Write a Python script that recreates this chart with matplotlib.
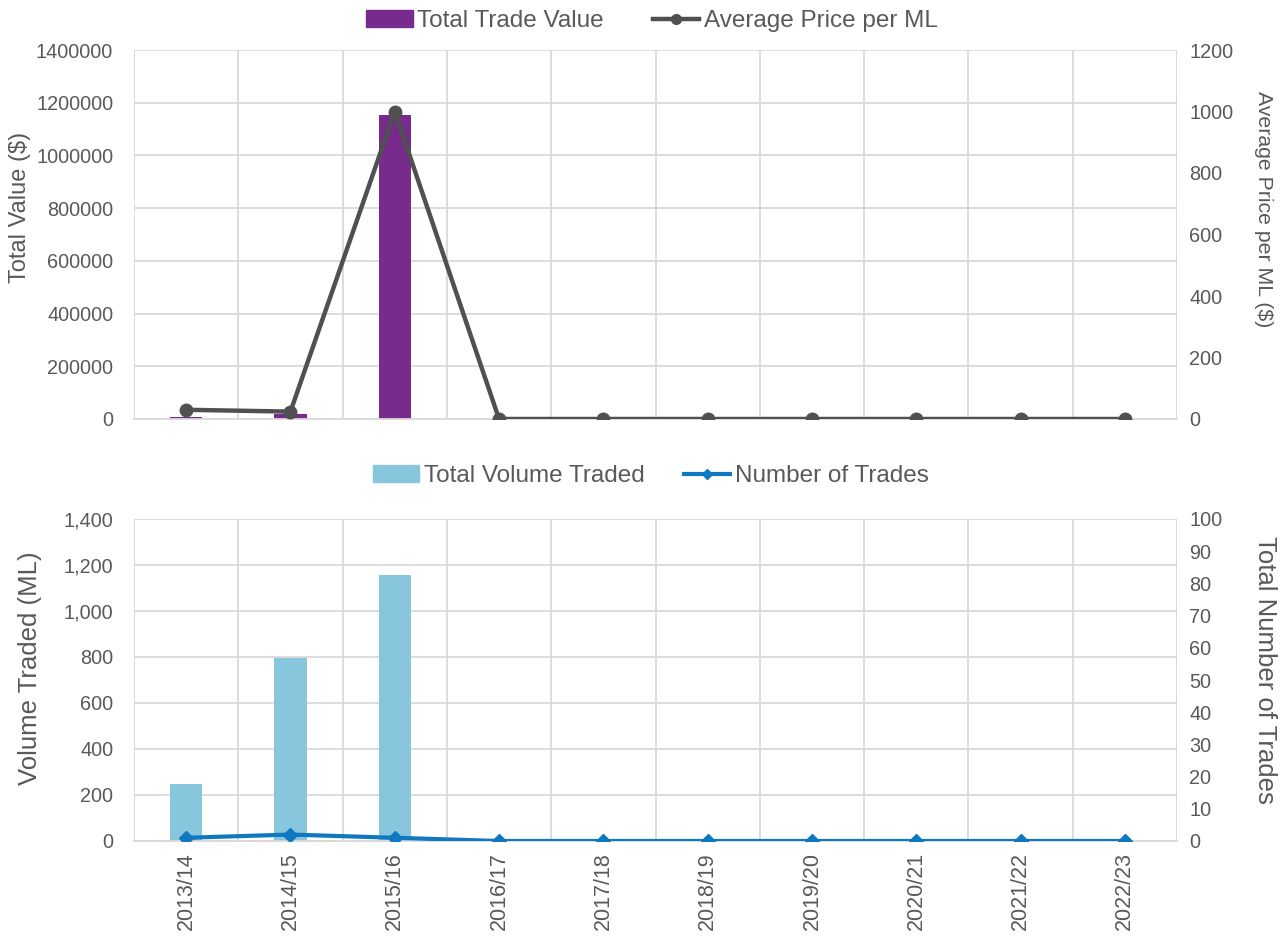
import matplotlib
matplotlib.use("Agg")
import matplotlib.pyplot as plt
from matplotlib.patches import Patch
from matplotlib.lines import Line2D
from matplotlib.ticker import FuncFormatter, MultipleLocator, FixedLocator
import numpy as np

plt.rcParams['font.family'] = ['Liberation Sans', 'DejaVu Sans']

years = ["2013/14", "2014/15", "2015/16", "2016/17", "2017/18",
         "2018/19", "2019/20", "2020/21", "2021/22", "2022/23"]
trade_value = [6000, 19000, 1155000, 0, 0, 0, 0, 0, 0, 0]
avg_price = [30, 24, 1000, 0, 0, 0, 0, 0, 0, 0]
volume = [250, 795, 1155, 0, 0, 0, 0, 0, 0, 0]
num_trades = [1, 2, 1, 0, 0, 0, 0, 0, 0, 0]

TXT = "#595959"
GRID = "#d9d9d9"
PURPLE = "#772B8C"
LBLUE = "#87C6DC"
DGREY = "#505050"
BLUE = "#0F78C1"
FS = 14.3
FSX = 15.5
FSL = 17.5

W, H = 1288, 944
fig = plt.figure(figsize=(W / 100, H / 100), dpi=100)

def frac_axes(x0, x1, ytop, ybot):
    return fig.add_axes([x0 / W, 1 - ybot / H, (x1 - x0) / W, (ybot - ytop) / H])

AX0, AX1 = 134, 1177
ax1 = frac_axes(AX0, AX1, 50, 419)
ax2 = frac_axes(AX0, AX1, 519, 841)
x = np.arange(len(years))

def style(ax, twin):
    ax.set_xlim(-0.5, len(years) - 0.5)
    ax.xaxis.set_minor_locator(FixedLocator(np.arange(-0.5, len(years), 1.0)))
    ax.grid(True, which='minor', axis='x', color=GRID, lw=1.3)
    ax.grid(True, which='major', axis='y', color=GRID, lw=1.3)
    ax.set_axisbelow(True)
    for s in ['top', 'left', 'right']:
        ax.spines[s].set_visible(False)
    ax.spines['bottom'].set_color(GRID)
    ax.spines['bottom'].set_linewidth(1.3)
    ax.tick_params(which='both', length=0, labelsize=FS, colors=TXT)
    ax.tick_params(axis='y', pad=15)
    ax.tick_params(axis='x', pad=8, labelsize=FSX)
    for s in twin.spines.values():
        s.set_visible(False)
    twin.tick_params(which='both', length=0, labelsize=FS, colors=TXT, pad=9)

def place_label(ax, text, px, py, ytop, ybot, rot, size):
    ax.set_ylabel(text, fontsize=size, color=TXT, rotation=rot, va='center', ha='center')
    ax.yaxis.set_label_coords((px - AX0) / (AX1 - AX0), (ybot - py) / (ybot - ytop))

# Top chart
t1 = ax1.twinx()
style(ax1, t1)
ax1.bar(x, trade_value, width=0.31, color=PURPLE, zorder=2)
ax1.set_ylim(0, 1400000)
ax1.yaxis.set_major_locator(MultipleLocator(200000))
ax1.yaxis.set_major_formatter(FuncFormatter(lambda v, p: f"{int(v)}"))
ax1.set_xticks(x)
ax1.set_xticklabels([])
place_label(ax1, "Total Value ($)", 20, 207, 50, 419, 90, 17)
t1.plot(x, avg_price, color=DGREY, lw=3.2, marker='o', ms=9, zorder=3)
t1.set_ylim(0, 1200)
t1.yaxis.set_major_locator(MultipleLocator(200))
place_label(t1, "Average Price per ML ($)", 1264, 209, 50, 419, 270, 15.3)

fig.legend(handles=[Patch(color=PURPLE, label="Total Trade Value"),
                    Line2D([], [], color=DGREY, lw=3.2, marker='o', ms=7, label="Average Price per ML")],
           loc='center', bbox_to_anchor=(652 / W, 1 - 21 / H), ncol=2, frameon=False,
           fontsize=FSL, labelcolor=TXT, handlelength=1.9, handletextpad=0.2, columnspacing=2.0)

# Bottom chart
t2 = ax2.twinx()
style(ax2, t2)
ax2.bar(x, volume, width=0.31, color=LBLUE, zorder=2)
ax2.set_ylim(0, 1400)
ax2.yaxis.set_major_locator(MultipleLocator(200))
ax2.yaxis.set_major_formatter(FuncFormatter(lambda v, p: f"{int(v):,}"))
ax2.set_xticks(x)
ax2.set_xticklabels(years, rotation=90)
place_label(ax2, "Volume Traded (ML)", 30, 668, 519, 841, 90, 18.5)
t2.plot(x, num_trades, color=BLUE, lw=3, marker='D', ms=7, zorder=3)
t2.set_ylim(0, 100)
t2.yaxis.set_major_locator(MultipleLocator(10))
place_label(t2, "Total Number of Trades", 1265, 670, 519, 841, 270, 18.5)

fig.legend(handles=[Patch(color=LBLUE, label="Total Volume Traded"),
                    Line2D([], [], color=BLUE, lw=3, marker='D', ms=5, label="Number of Trades")],
           loc='center', bbox_to_anchor=(651 / W, 1 - 476 / H), ncol=2, frameon=False,
           fontsize=FSL, labelcolor=TXT, handlelength=1.9, handletextpad=0.2, columnspacing=1.6)

fig.savefig("out.png", dpi=100)
